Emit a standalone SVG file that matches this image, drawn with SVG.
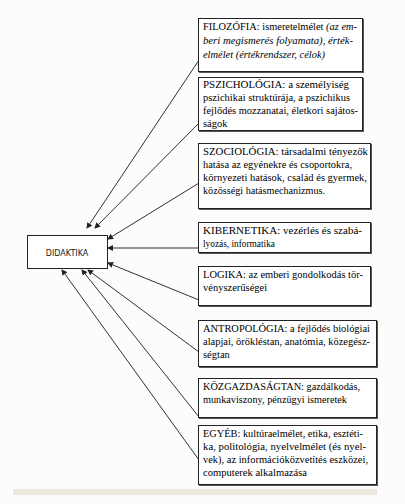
<svg xmlns="http://www.w3.org/2000/svg" width="405" height="504" viewBox="0 0 405 504">
<style>
.box{fill:#fff;stroke:#222;stroke-width:1}
.sh{fill:#555}
.t{font-family:"Liberation Serif","Times New Roman",serif;font-size:10.5px;fill:#000}
.i{font-style:italic}
.c{stroke:#333;stroke-width:1;fill:none;marker-end:url(#ah)}
.dk{font-family:"DejaVu Sans",Verdana,sans-serif;font-size:8px;fill:#222}
</style>
<defs>
<marker id="ah" markerWidth="6" markerHeight="6" refX="5" refY="3" orient="auto" markerUnits="userSpaceOnUse">
<path d="M0,0 L6,3 L0,6 z" fill="#222"/>
</marker>
</defs>
<rect width="405" height="504" fill="#fcfcfc"/>
<rect x="13" y="489" width="364" height="6" fill="#ece9dc"/>
<g id="connectors">
<line class="c" x1="199" y1="60" x2="87" y2="228"/>
<line class="c" x1="199" y1="123" x2="95" y2="228"/>
<line class="c" x1="199" y1="183" x2="108" y2="239"/>
<line class="c" x1="199" y1="248" x2="108" y2="248"/>
<line class="c" x1="199" y1="300" x2="108" y2="263"/>
<line class="c" x1="199" y1="352" x2="88" y2="270"/>
<line class="c" x1="199" y1="417" x2="82" y2="270"/>
<line class="c" x1="199" y1="460" x2="62" y2="270"/>
</g>
<g id="didaktika">
<rect class="box" x="27.5" y="235.5" width="80" height="33"/>
<text class="dk" x="67" y="256" text-anchor="middle">DIDAKTIKA</text>
</g>
<g id="filozofia">
<rect class="sh" x="199" y="19" width="165" height="54"/>
<rect class="box" x="198.5" y="18.5" width="164" height="53"/>
<text class="t" x="203" y="30" textLength="154" lengthAdjust="spacingAndGlyphs">FILOZÓFIA: ismeretelmélet <tspan class="i">(az em-</tspan></text>
<text class="t i" x="203" y="44" textLength="150" lengthAdjust="spacingAndGlyphs">beri megismerés folyamata), érték-</text>
<text class="t i" x="203" y="58" textLength="122" lengthAdjust="spacingAndGlyphs">elmélet (értékrendszer, célok)</text>
</g>
<g id="pszichologia">
<rect class="sh" x="199" y="78" width="165" height="54"/>
<rect class="box" x="198.5" y="77.5" width="164" height="53"/>
<text class="t" x="203" y="88" textLength="146" lengthAdjust="spacingAndGlyphs">PSZICHOLÓGIA: a személyiség</text>
<text class="t" x="203" y="101" textLength="147" lengthAdjust="spacingAndGlyphs">pszichikai struktúrája, a pszichikus</text>
<text class="t" x="203" y="114" textLength="155" lengthAdjust="spacingAndGlyphs">fejlődés mozzanatai, életkori sajátos-</text>
<text class="t" x="203" y="127">ságok</text>
</g>
<g id="szociologia">
<rect class="sh" x="199" y="144" width="173" height="66"/>
<rect class="box" x="198.5" y="143.5" width="172" height="65"/>
<text class="t" x="203" y="155" textLength="165" lengthAdjust="spacingAndGlyphs">SZOCIOLÓGIA: társadalmi tényezők</text>
<text class="t" x="203" y="168" textLength="149" lengthAdjust="spacingAndGlyphs">hatása az egyénekre és csoportokra,</text>
<text class="t" x="203" y="181" textLength="164" lengthAdjust="spacingAndGlyphs">környezeti hatások, család és gyermek,</text>
<text class="t" x="203" y="194" textLength="122" lengthAdjust="spacingAndGlyphs">közösségi hatásmechanizmus.</text>
</g>
<g id="kibernetika">
<rect class="sh" x="199" y="223" width="173" height="31"/>
<rect class="box" x="198.5" y="222.5" width="172" height="30"/>
<text class="t" x="203" y="234" textLength="159" lengthAdjust="spacingAndGlyphs">KIBERNETIKA: vezérlés és szabá-</text>
<text class="t" x="203" y="247" textLength="72" lengthAdjust="spacingAndGlyphs">lyozás, informatika</text>
</g>
<g id="logika">
<rect class="sh" x="199" y="267" width="173" height="40"/>
<rect class="box" x="198.5" y="266.5" width="172" height="39"/>
<text class="t" x="203" y="278" textLength="160" lengthAdjust="spacingAndGlyphs">LOGIKA: az emberi gondolkodás tör-</text>
<text class="t" x="203" y="291">vényszerűségei</text>
</g>
<g id="antropologia">
<rect class="sh" x="199" y="321" width="179" height="47"/>
<rect class="box" x="198.5" y="320.5" width="178" height="46"/>
<text class="t" x="203" y="332" textLength="167" lengthAdjust="spacingAndGlyphs">ANTROPOLÓGIA: a fejlődés biológiai</text>
<text class="t" x="203" y="345" textLength="167" lengthAdjust="spacingAndGlyphs">alapjai, örökléstan, anatómia, közegész-</text>
<text class="t" x="203" y="358">ségtan</text>
</g>
<g id="kozgazdasagtan">
<rect class="sh" x="199" y="379" width="179" height="40"/>
<rect class="box" x="198.5" y="378.5" width="178" height="39"/>
<text class="t" x="203" y="390" textLength="157" lengthAdjust="spacingAndGlyphs">KÖZGAZDASÁGTAN: gazdálkodás,</text>
<text class="t" x="203" y="403" textLength="144" lengthAdjust="spacingAndGlyphs">munkaviszony, pénzügyi ismeretek</text>
</g>
<g id="egyeb">
<rect class="sh" x="199" y="426" width="179" height="60"/>
<rect class="box" x="198.5" y="425.5" width="178" height="59"/>
<text class="t" x="203" y="437" textLength="160" lengthAdjust="spacingAndGlyphs">EGYÉB: kultúraelmélet, etika, esztéti-</text>
<text class="t" x="203" y="450" textLength="163" lengthAdjust="spacingAndGlyphs">ka, politológia, nyelvelmélet (és nyel-</text>
<text class="t" x="203" y="463" textLength="165" lengthAdjust="spacingAndGlyphs">vek), az információközvetítés eszközei,</text>
<text class="t" x="203" y="476" textLength="104" lengthAdjust="spacingAndGlyphs">computerek alkalmazása</text>
</g>
</svg>
